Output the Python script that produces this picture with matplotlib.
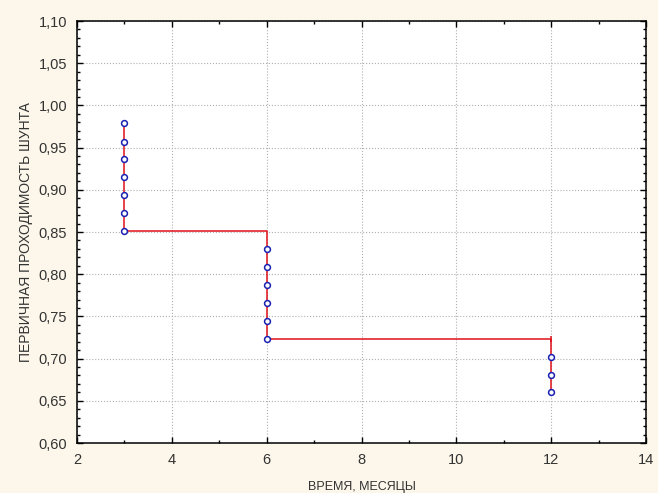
import matplotlib
matplotlib.use("Agg")
import matplotlib.pyplot as plt
from matplotlib.ticker import FuncFormatter, MultipleLocator

# Survival curve: step points (time, probability)
step_times = [3, 3, 6, 6, 12, 12]
step_probs = [0.979, 0.851, 0.851, 0.723, 0.723, 0.660]

# Event markers (open circles)
event_times = [3, 3, 3, 3, 3, 3, 3,
               6, 6, 6, 6, 6, 6,
               12, 12, 12]
event_probs = [0.979, 0.957, 0.936, 0.915, 0.894, 0.872, 0.851,
               0.830, 0.809, 0.787, 0.766, 0.745, 0.723,
               0.702, 0.681, 0.660]

# Censored mark
censor_times = [12]
censor_probs = [0.723]

plt.rcParams['font.family'] = ['Liberation Sans', 'DejaVu Sans']

fig = plt.figure(figsize=(6.58, 4.93), dpi=100, facecolor='#fcf7ea')
ax = fig.add_axes([0.117, 0.1014, 0.865, 0.856])
ax.set_facecolor('white')

ax.plot(step_times, step_probs, color='#e0101a', linewidth=1.1, zorder=3)
ax.plot(event_times, event_probs, linestyle='none', marker='o', markersize=4.2,
        markerfacecolor='white', markeredgecolor='#1a20b0', markeredgewidth=1.1, zorder=4)
ax.plot(censor_times, censor_probs, linestyle='none', marker='|', markersize=5,
        color='#e0101a', markeredgewidth=1.1, zorder=3)

ax.set_xlim(2, 14)
ax.set_ylim(0.60, 1.10)
ax.xaxis.set_major_locator(MultipleLocator(2))
ax.xaxis.set_minor_locator(MultipleLocator(1))
ax.yaxis.set_major_locator(MultipleLocator(0.05))
ax.yaxis.set_minor_locator(MultipleLocator(0.01))
ax.yaxis.set_major_formatter(FuncFormatter(lambda v, p: f"{v:.2f}".replace('.', ',')))

ax.grid(True, which='major', linestyle=':', color='#b0b0b0', linewidth=0.8)
ax.tick_params(which='both', direction='in', top=True, right=True, colors='black',
               labelcolor='#333333', labelsize=10.5)
ax.tick_params(which='major', length=4, width=1)
ax.tick_params(which='minor', length=2.5, width=1)
ax.tick_params(axis='y', which='major', pad=7)
ax.tick_params(axis='x', which='major', pad=7)
for s in ax.spines.values():
    s.set_linewidth(1.1)

ax.set_xlabel('ВРЕМЯ, МЕСЯЦЫ', fontsize=9, color='#333333', labelpad=10)
ax.set_ylabel('ПЕРВИЧНАЯ ПРОХОДИМОСТЬ ШУНТА', fontsize=10, color='#333333', labelpad=4)

fig.savefig('out.png', dpi=100, facecolor=fig.get_facecolor())
